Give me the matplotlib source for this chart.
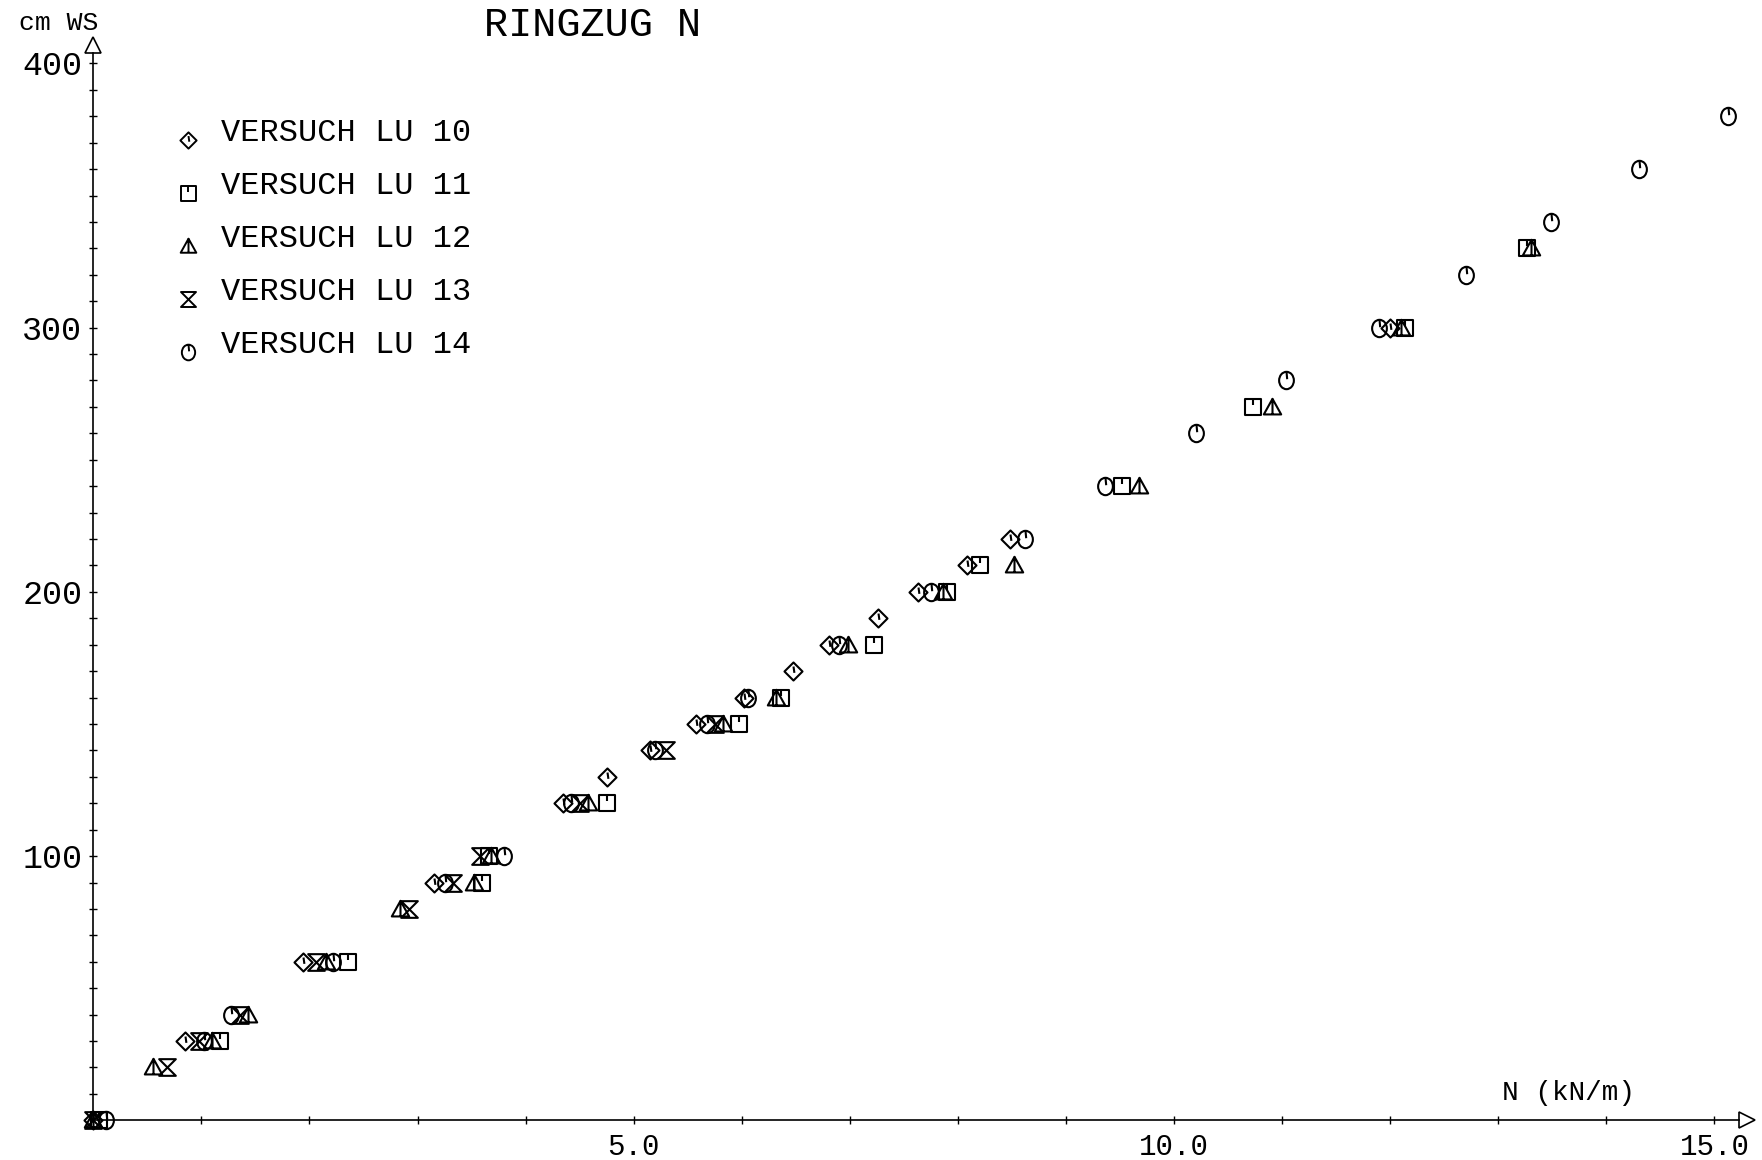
"""
RINGZUG N - Wassersaeule ueber Ringzugkraft, Versuche LU 10 bis LU 14
Nachbau einer Plotter-Grafik
"""
import numpy as np
import matplotlib.pyplot as plt
from matplotlib.path import Path
from matplotlib.ticker import FixedLocator, FixedFormatter

plt.rcParams["font.family"] = ["Liberation Mono", "DejaVu Sans Mono"]

# -------------------
# Data: N in kN/m, water column in cm WS
# -------------------
lu10_n = [0.0, 0.85, 1.94, 3.15, 4.35, 4.75, 5.15, 5.58, 6.02, 6.47, 6.81, 7.26, 7.63, 8.08, 8.48, 12.0]
lu10_h = [0, 30, 60, 90, 120, 130, 140, 150, 160, 170, 180, 190, 200, 210, 220, 300]

lu11_n = [0.05, 1.17, 2.36, 3.60, 3.66, 4.75, 5.97, 6.36, 7.22, 7.90, 8.20, 9.52, 10.73, 12.14, 13.27]
lu11_h = [0, 30, 60, 90, 100, 120, 150, 160, 180, 200, 210, 240, 270, 300, 330]

lu12_n = [0.0, 0.55, 1.10, 1.43, 2.15, 2.84, 3.52, 3.68, 4.58, 5.83, 6.32, 6.98, 7.86, 8.52, 9.68, 10.91, 12.10, 13.30]
lu12_h = [0, 20, 30, 40, 60, 80, 90, 100, 120, 150, 160, 180, 200, 210, 240, 270, 300, 330]

lu13_n = [0.0, 0.68, 0.98, 1.36, 2.06, 2.92, 3.33, 3.58, 4.50, 5.30, 5.75]
lu13_h = [0, 20, 30, 40, 60, 80, 90, 100, 120, 140, 150]

lu14_n = [0.12, 1.02, 1.27, 2.22, 3.25, 3.80, 4.42, 5.20, 5.68, 6.06, 6.90, 7.75, 8.62,
          9.36, 10.20, 11.04, 11.90, 12.70, 13.49, 14.30, 15.13]
lu14_h = [0, 30, 40, 60, 90, 100, 120, 140, 150, 160, 180, 200, 220, 240, 260, 280,
          300, 320, 340, 360, 380]

series_labels = ["VERSUCH LU 10", "VERSUCH LU 11", "VERSUCH LU 12", "VERSUCH LU 13", "VERSUCH LU 14"]

x_major = [5.0, 10.0, 15.0]
x_tick_labels = ["5.0", "10.0", "15.0"]
y_major = [100, 200, 300, 400]
y_tick_labels = ["100", "200", "300", "400"]


# -------------------
# Plotter symbols
# -------------------
def compound(*parts):
    return Path.make_compound_path(*parts)


def seg(p0, p1):
    return Path([p0, p1], [Path.MOVETO, Path.LINETO])


def poly(pts):
    codes = [Path.MOVETO] + [Path.LINETO] * (len(pts) - 1) + [Path.CLOSEPOLY]
    return Path(pts + [pts[0]], codes)


circ = Path.unit_circle()
ellipse = Path(circ.vertices * [0.85, 1.0], circ.codes)

sym_diamond = compound(poly([(0, 1), (1, 0), (0, -1), (-1, 0)]), seg((0, 0.55), (0.1, -0.15)))
sym_square = compound(poly([(-1, -1), (1, -1), (1, 1), (-1, 1)]), seg((0, 1), (0, 0.2)))
sym_triangle = compound(poly([(-1, -0.8), (1, -0.8), (0, 1)]), seg((0, 1), (0, -0.8)))
sym_hourglass = poly([(-1, 1), (1, 1), (-1, -1), (1, -1)])
sym_circle = compound(ellipse, seg((0, 1), (0.08, 0.15)))

symbols = [sym_diamond, sym_square, sym_triangle, sym_hourglass, sym_circle]
sizes = [13, 12, 12.5, 12, 12.5]
series = [(lu10_n, lu10_h), (lu11_n, lu11_h), (lu12_n, lu12_h), (lu13_n, lu13_h), (lu14_n, lu14_h)]

# -------------------
# Figure
# -------------------
W, H = 1762, 1160
fig = plt.figure(figsize=(W / 100, H / 100), dpi=100)
fig.patch.set_facecolor("white")

x0_px, y0_px = 93.3, 39.7
ax = fig.add_axes([x0_px / W, y0_px / H, (W - x0_px) / W, (H - y0_px) / H])
ax.set_xlim(0, 15.44)
ax.set_ylim(0, 424)
ax.patch.set_alpha(0)

for spine in ["top", "right"]:
    ax.spines[spine].set_visible(False)
ax.spines["left"].set_bounds(0, 404)
ax.spines["bottom"].set_bounds(0, 15.23)
ax.spines["left"].set_linewidth(1.2)
ax.spines["bottom"].set_linewidth(1.2)

ax.xaxis.set_major_locator(FixedLocator(x_major))
ax.xaxis.set_major_formatter(FixedFormatter(x_tick_labels))
ax.xaxis.set_minor_locator(FixedLocator(np.arange(1, 16, 1.0)))
ax.yaxis.set_major_locator(FixedLocator(y_major))
ax.yaxis.set_major_formatter(FixedFormatter(y_tick_labels))
ax.yaxis.set_minor_locator(FixedLocator(np.arange(10, 401, 10)))

ax.tick_params(which="both", direction="inout", length=6, width=1.0, color="black")
ax.tick_params(axis="x", which="major", labelsize=21, pad=6)
ax.tick_params(axis="y", which="major", labelsize=24, pad=5)

# axis arrow heads
ax.plot([0], [407], marker="^", ms=11.5, mfc="white", mec="black", mew=1.2, clip_on=False)
ax.plot([15.30], [0], marker=">", ms=11.5, mfc="white", mec="black", mew=1.2, clip_on=False)

for (n, h), sym, ms in zip(series, symbols, sizes):
    ax.plot(n, h, linestyle="none", marker=sym, ms=ms, mfc="none", mec="black",
            mew=1.5, clip_on=False)

# -------------------
# Legend (drawn by hand like the plotter did)
# -------------------
for i, (label, sym, ms) in enumerate(zip(series_labels, symbols, sizes)):
    ty = 1 - (132.6 + 53 * i) / H
    ax.plot([187.7 / W], [ty - 7 / H], transform=fig.transFigure, marker=sym, ms=ms * 0.9,
            mfc="none", mec="black", mew=1.4, clip_on=False)
    fig.text(221 / W, ty, label, fontsize=23, ha="left", va="center")

# -------------------
# Titles and axis names
# -------------------
fig.text(593 / W, 1 - 25 / H, "RINGZUG N", fontsize=29, ha="center", va="center")
fig.text(59 / W, 1 - 23 / H, "cm WS", fontsize=19, ha="center", va="center")
fig.text(1569 / W, 1 - 1093 / H, "N (kN/m)", fontsize=20, ha="center", va="center")

fig.savefig("out.png", dpi=100, facecolor="white")
